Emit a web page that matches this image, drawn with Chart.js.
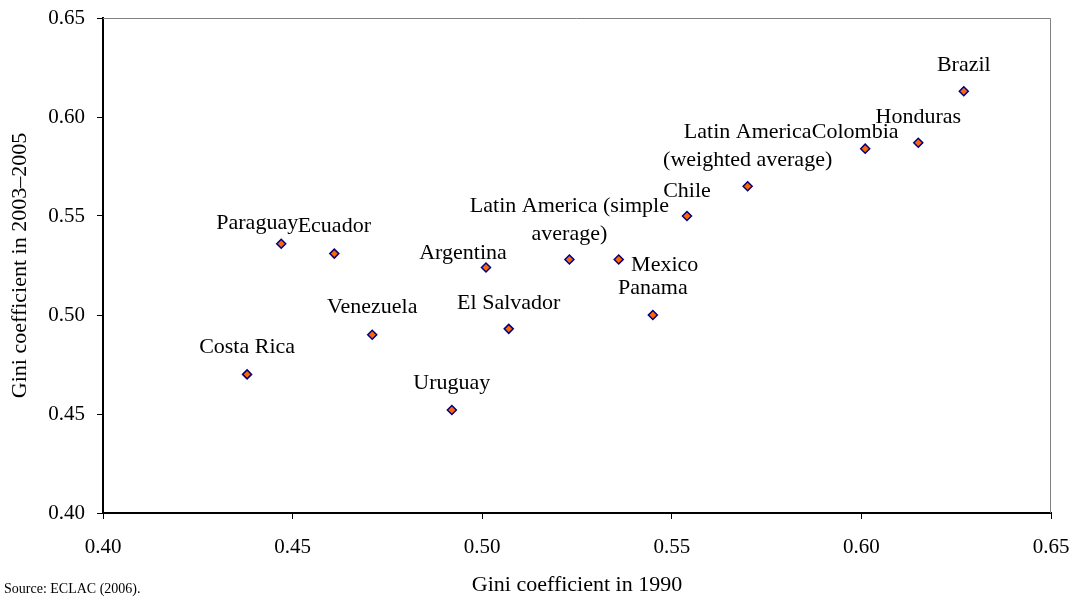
<!DOCTYPE html>
<html>
<head>
<meta charset="utf-8">
<script src="https://cdn.jsdelivr.net/npm/chart.js"></script>
<style>
  html, body { margin: 0; padding: 0; background: #fff; }
  #wrap { width: 1077px; height: 600px; position: relative; }
</style>
</head>
<body>
<div id="wrap"><canvas id="gini"></canvas></div>
<script>
// data
var countries = ['Brazil', 'Honduras', 'Colombia', 'Latin America (weighted average)', 'Chile',
  'Latin America (simple average)', 'Mexico', 'Panama', 'El Salvador', 'Argentina',
  'Uruguay', 'Paraguay', 'Ecuador', 'Venezuela', 'Costa Rica'];
var gini1990 = [0.627, 0.615, 0.601, 0.570, 0.554, 0.523, 0.536, 0.545, 0.507, 0.501, 0.492, 0.447, 0.461, 0.471, 0.438];
var gini2005 = [0.613, 0.587, 0.584, 0.565, 0.550, 0.528, 0.528, 0.500, 0.493, 0.524, 0.452, 0.536, 0.531, 0.490, 0.470];
var tickValues = [0.40, 0.45, 0.50, 0.55, 0.60, 0.65];

// how each label is broken into lines
var labelLines = [['Brazil'], ['Honduras'], ['Colombia'], ['Latin America', '(weighted average)'], ['Chile'],
  ['Latin America (simple', 'average)'], ['Mexico'], ['Panama'], ['El Salvador'], ['Argentina'],
  ['Uruguay'], ['Paraguay'], ['Ecuador'], ['Venezuela'], ['Costa Rica']];
// label offset from its point (centre of last line), px
var labelShift = [[0, -26], [0, -26], [-10, -16], [0, -26], [0, -25],
  [0, -25], [46, 6], [0, -27], [0, -26], [-23, -14],
  [0, -27], [-24, -21], [0, -27], [0, -28], [0, -27]];

var serif = '"Liberation Serif", "Times New Roman", serif';

var points = gini1990.map(function(x, i) { return {x: x, y: gini2005[i]}; });

// point labels, outer frame and the source note
var extras = {
  id: 'extras',
  beforeDatasetsDraw: function(chart) {
    var a = chart.chartArea, ctx = chart.ctx;
    ctx.save();
    ctx.strokeStyle = '#808080';
    ctx.lineWidth = 1;
    ctx.beginPath();
    ctx.moveTo(a.left, a.top + 0.5);
    ctx.lineTo(a.right - 0.5, a.top + 0.5);
    ctx.lineTo(a.right - 0.5, a.bottom);
    ctx.stroke();
    ctx.restore();
  },
  afterDatasetsDraw: function(chart) {
    var ctx = chart.ctx;
    var meta = chart.getDatasetMeta(0);
    ctx.save();
    ctx.font = '22px ' + serif;
    ctx.fillStyle = '#000';
    ctx.textAlign = 'center';
    ctx.textBaseline = 'middle';
    meta.data.forEach(function(pt, i) {
      var lines = labelLines[i];
      var n = lines.length;
      lines.forEach(function(txt, j) {
        ctx.fillText(txt, pt.x + labelShift[i][0], pt.y + labelShift[i][1] - (n - 1 - j) * 28);
      });
    });
    ctx.font = '14px ' + serif;
    ctx.textAlign = 'left';
    ctx.fillText('Source: ECLAC (2006).', 4, 589);
    ctx.restore();
  }
};

new Chart(document.getElementById('gini'), {
  type: 'scatter',
  data: {
    datasets: [{
      label: 'Gini',
      data: points,
      pointStyle: 'rectRot',
      pointRadius: 4.5,
      pointHoverRadius: 4.5,
      backgroundColor: '#FF6600',
      borderColor: '#000080',
      borderWidth: 1.5
    }]
  },
  options: {
    responsive: true,
    maintainAspectRatio: false,
    animation: false,
    layout: {padding: {left: 0, right: 26, top: 18, bottom: 0}},
    plugins: {legend: {display: false}, tooltip: {enabled: false}},
    scales: {
      x: {
        type: 'linear',
        min: 0.40,
        max: 0.65,
        afterBuildTicks: function(scale) { scale.ticks = tickValues.map(function(v) { return {value: v}; }); },
        afterFit: function(scale) {
          scale.height = 87;
          scale.paddingLeft = 0;
          scale.paddingRight = 0;
        },
        ticks: {
          padding: 16,
          color: '#000',
          font: {family: serif, size: 21},
          callback: function(v) { return v.toFixed(2); }
        },
        grid: {drawOnChartArea: false, drawTicks: true, tickLength: 6, color: '#000'},
        border: {display: true, color: '#000', width: 2},
        title: {
          display: true,
          text: 'Gini coefficient in 1990',
          color: '#000',
          font: {family: serif, size: 22},
          padding: {top: 0, bottom: 2}
        }
      },
      y: {
        type: 'linear',
        min: 0.40,
        max: 0.65,
        afterBuildTicks: function(scale) { scale.ticks = tickValues.map(function(v) { return {value: v}; }); },
        afterFit: function(scale) {
          scale.width = 103;
          scale.paddingTop = 0;
          scale.paddingBottom = 0;
        },
        ticks: {
          padding: 12,
          color: '#000',
          font: {family: serif, size: 21},
          callback: function(v) { return v.toFixed(2); }
        },
        grid: {drawOnChartArea: false, drawTicks: true, tickLength: 6, color: '#000'},
        border: {display: true, color: '#000', width: 2},
        title: {
          display: true,
          text: 'Gini coefficient in 2003\u20132005',
          color: '#000',
          font: {family: serif, size: 22},
          padding: {top: 7, bottom: 0}
        }
      }
    }
  },
  plugins: [extras]
});
</script>
</body>
</html>
